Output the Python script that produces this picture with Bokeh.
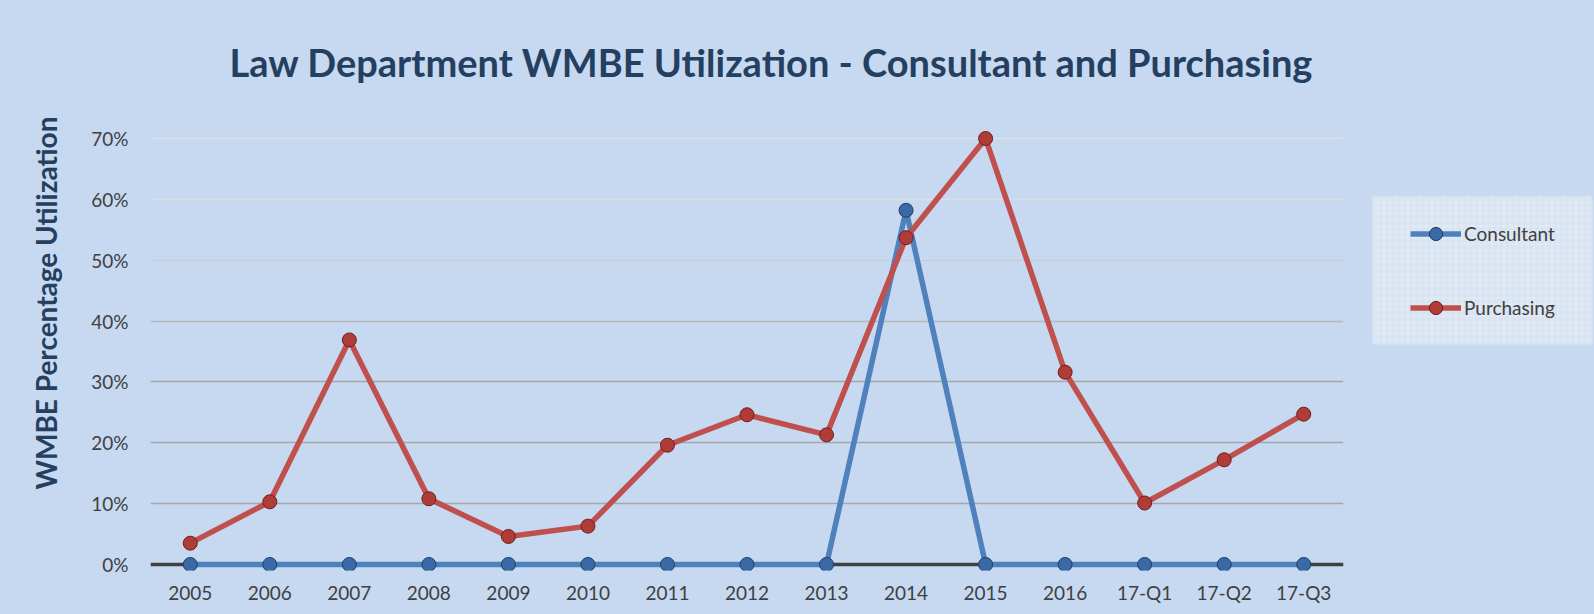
import numpy as np
from bokeh.plotting import figure
from bokeh.layouts import row
from bokeh.models import (FactorRange, Range1d, NumeralTickFormatter, FixedTicker,
                          Span, Legend, LegendItem, Grid, ColumnDataSource, Title,
                          BoxAnnotation)
from bokeh.embed import file_html
from bokeh.resources import INLINE

# ---- data ----
periods = ["2005", "2006", "2007", "2008", "2009", "2010", "2011", "2012",
           "2013", "2014", "2015", "2016", "17-Q1", "17-Q2", "17-Q3"]
consultant = [0.0, 0.0, 0.0, 0.0, 0.0, 0.0, 0.0, 0.0,
              0.0, 0.582, 0.0, 0.0, 0.0, 0.0, 0.0]
purchasing = [0.035, 0.103, 0.369, 0.108, 0.046, 0.063, 0.196, 0.246,
              0.213, 0.537, 0.700, 0.316, 0.101, 0.172, 0.247]
y_ticks = [0.0, 0.1, 0.2, 0.3, 0.4, 0.5, 0.6, 0.7]
series_names = ["Consultant", "Purchasing"]

BG = "#c6d9f0"
NAVY = "#243f60"
GREY = "#404040"
FONT = "Lato"
BLUE_LINE, BLUE_FILL, BLUE_EDGE = "#4f81bd", "#3a6aa6", "#1f3f66"
RED_LINE, RED_FILL, RED_EDGE = "#c0504d", "#b03c38", "#6e1f1c"

src = ColumnDataSource(dict(x=periods, c=consultant, pu=purchasing))

p = figure(width=1350, height=614,
           x_range=FactorRange(*periods, range_padding=0),
           y_range=Range1d(-0.0099, 0.7296),
           output_backend="svg", toolbar_location=None,
           min_border_left=150, min_border_right=7,
           min_border_top=120, min_border_bottom=44)

p.background_fill_color = BG
p.border_fill_color = BG
p.outline_line_color = None

# title
p.title.text = "Law Department WMBE Utilization - Consultant and Purchasing"
p.title.text_font = FONT
p.title.text_font_style = "bold"
p.title.text_font_size = "38px"
p.title.text_color = NAVY
p.title.align = "left"
p.title.offset = 79
p.title.standoff = 71

# axes
p.yaxis.ticker = FixedTicker(ticks=y_ticks)
p.yaxis.formatter = NumeralTickFormatter(format="0%")
p.yaxis.major_label_standoff = 16
for ax in (p.xaxis[0], p.yaxis[0]):
    ax.axis_line_color = None
    ax.major_tick_line_color = None
    ax.minor_tick_line_color = None
    ax.major_label_text_font = FONT
    ax.major_label_text_font_size = "19px"
    ax.major_label_text_color = GREY
p.xaxis.major_label_standoff = 4

# y axis title (offset upward like the reference)
ytitle = Title(text="WMBE Percentage Utilization", text_font=FONT,
               text_font_style="bold", text_font_size="28px",
               text_color=NAVY, align="left", offset=81, standoff=52)
p.add_layout(ytitle, "left")

# grid lines (lighter towards the top)
p.xgrid.grid_line_color = None
p.ygrid.grid_line_color = None
for ticks, col in (([0.1, 0.2, 0.3], "#a6a6a6"), ([0.4], "#b6b9be"),
                   ([0.5], "#c9cdd2"), ([0.6, 0.7], "#dcdfe3")):
    p.add_layout(Grid(dimension=1, ticker=FixedTicker(ticks=ticks),
                      grid_line_color=col, grid_line_width=1.3))

# zero axis line
p.add_layout(Span(location=0, dimension="width", line_color=GREY,
                  line_width=3.5, level="underlay"))

# series
p.line("x", "c", source=src, line_color=BLUE_LINE, line_width=5.5)
p.scatter("x", "c", source=src, size=14, fill_color=BLUE_FILL,
          line_color=BLUE_EDGE, line_width=1)
p.line("x", "pu", source=src, line_color=RED_LINE, line_width=5.5)
p.scatter("x", "pu", source=src, size=14, fill_color=RED_FILL,
          line_color=RED_EDGE, line_width=1)

# ---- legend panel (separate narrow figure to the right) ----
# its frame spans the same pixels as the main frame; ranges are in pixels
lg = figure(width=244, height=614, output_backend="svg", toolbar_location=None,
            x_range=Range1d(0, 244), y_range=Range1d(0, 450),
            min_border_left=0, min_border_right=0,
            min_border_top=120, min_border_bottom=44)
lg.background_fill_color = BG
lg.border_fill_color = BG
lg.outline_line_color = None
lg.axis.visible = False
lg.grid.visible = False

# legend box with faint grid texture
lg.add_layout(BoxAnnotation(left=22, right=242, bottom=226, top=374,
                            fill_color="#d8e4f2", fill_alpha=1.0,
                            line_color=None, hatch_pattern="cross",
                            hatch_color="#ffffff", hatch_alpha=0.35,
                            hatch_scale=6, hatch_weight=0.8,
                            level="underlay"))

nan_src = ColumnDataSource(dict(x=[np.nan], y=[np.nan]))
items = []
for name, lcol, fcol, ecol in zip(series_names,
                                  (BLUE_LINE, RED_LINE),
                                  (BLUE_FILL, RED_FILL),
                                  (BLUE_EDGE, RED_EDGE)):
    r1 = lg.line("x", "y", source=nan_src, line_color=lcol, line_width=5.5)
    r2 = lg.scatter("x", "y", source=nan_src, size=14, fill_color=fcol,
                    line_color=ecol, line_width=1)
    items.append(LegendItem(label=name, renderers=[r1, r2]))

legend = Legend(items=items, location=(60, 246), orientation="vertical",
                padding=0, margin=0, spacing=41,
                glyph_width=51, glyph_height=33, label_height=33,
                label_standoff=3,
                label_text_font=FONT, label_text_font_size="19px",
                label_text_color=GREY,
                background_fill_alpha=0.0,
                border_line_color=None)
lg.add_layout(legend)

layout = row(p, lg, spacing=0, styles={"background-color": BG})
open("out.html", "w").write(file_html(layout, INLINE))
